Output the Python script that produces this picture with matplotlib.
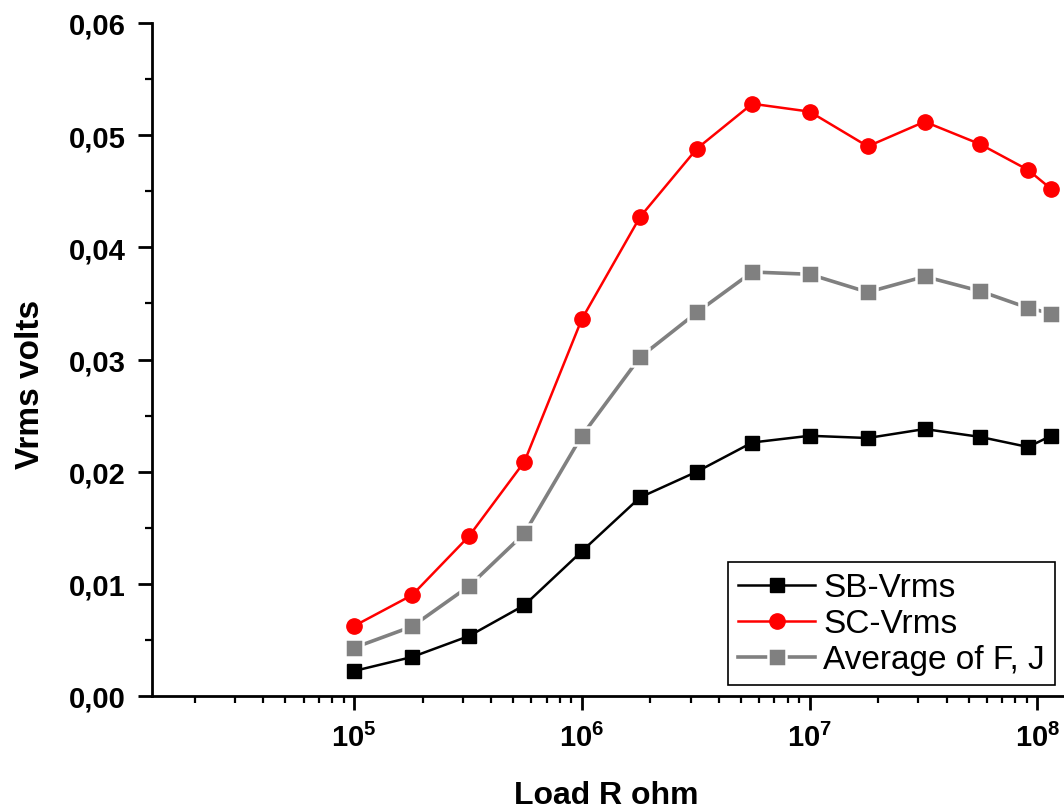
import numpy as np
import matplotlib
matplotlib.use("Agg")
import matplotlib.pyplot as plt
from matplotlib.ticker import FuncFormatter, LogLocator, MultipleLocator, NullFormatter

# ── Podaci (ocitani sa slike) ────────────────────────────────
load_r = [1.0e5, 1.8e5, 3.2e5, 5.6e5, 1.0e6, 1.8e6, 3.2e6, 5.6e6,
          1.0e7, 1.8e7, 3.2e7, 5.6e7, 9.1e7, 1.15e8]
sb_vrms = [0.00223, 0.00348, 0.00535, 0.0081, 0.0129, 0.0177, 0.0200, 0.0226,
           0.0232, 0.0230, 0.0238, 0.0231, 0.0222, 0.0232]
sc_vrms = [0.00624, 0.0090, 0.01426, 0.0209, 0.0336, 0.0427, 0.0488, 0.0528,
           0.0521, 0.0490, 0.0512, 0.0492, 0.0469, 0.0452]
avg_fj = [0.0043, 0.0062, 0.0098, 0.0145, 0.0232, 0.0302, 0.0342, 0.0378,
          0.0376, 0.0360, 0.0374, 0.0361, 0.0346, 0.0341]

labels = ["SB-Vrms", "SC-Vrms", "Average of F, J"]

# ── Stil ─────────────────────────────────────────────────────
plt.rcParams['font.family'] = ['Liberation Sans', 'DejaVu Sans']
plt.rcParams['mathtext.fontset'] = 'custom'
plt.rcParams['mathtext.rm'] = 'Liberation Sans'
plt.rcParams['mathtext.bf'] = 'Liberation Sans:bold'

fig = plt.figure(figsize=(10.64, 8.12), dpi=100)
ax = fig.add_axes([152/1064, 1 - 697/812, 915/1064, 673/812])

ax.plot(load_r, sb_vrms, color='black', lw=1.8, marker='s', ms=10.5,
        label=labels[0])
ax.plot(load_r, sc_vrms, color='red', lw=1.8, marker='o', ms=11,
        label=labels[1])
ax.plot(load_r, avg_fj, color='#808080', lw=2.6, marker='s', ms=12.5,
        mec='white', mew=1.8, label=labels[2])

ax.set_xscale('log')
ax.set_xlim(10**4.113, 10**8.13)
ax.set_ylim(0, 0.06)

# osovine kao u Originu: samo leva i donja
for s in ['top', 'right']:
    ax.spines[s].set_visible(False)
for s in ['left', 'bottom']:
    ax.spines[s].set_linewidth(2)

ax.xaxis.set_major_locator(LogLocator(base=10, numticks=10))
ax.xaxis.set_minor_locator(LogLocator(base=10, subs=np.arange(2, 10), numticks=20))
ax.xaxis.set_minor_formatter(NullFormatter())
ax.xaxis.set_major_formatter(FuncFormatter(
    lambda v, p: r'$\mathbf{10^{%d}}$' % round(np.log10(v))))

ax.yaxis.set_major_locator(MultipleLocator(0.01))
ax.yaxis.set_minor_locator(MultipleLocator(0.005))
ax.yaxis.set_major_formatter(FuncFormatter(lambda v, p: f"{v:.2f}".replace('.', ',')))

ax.tick_params(which='major', direction='out', length=10, width=2,
               labelsize=21, pad=9)
ax.tick_params(which='minor', direction='out', length=5, width=1.6)
for t in ax.get_yticklabels():
    t.set_fontweight('bold')

ax.set_xlabel("Load R ohm", fontsize=23, fontweight='bold')
ax.xaxis.set_label_coords(0.496, -0.125)
ax.set_ylabel("Vrms volts", fontsize=24, fontweight='bold', va='center')
ax.yaxis.set_label_coords(-0.133, 0.464)

leg = ax.legend(loc='lower right', bbox_to_anchor=(0.987, 0.016),
                fontsize=24, frameon=True, fancybox=False, framealpha=1,
                handlelength=2.3, handletextpad=0.25, labelspacing=0.15,
                borderpad=0.3, borderaxespad=0)
leg.get_frame().set_edgecolor('black')
leg.get_frame().set_linewidth(1.2)

plt.savefig("out.png", dpi=100)
plt.close()
